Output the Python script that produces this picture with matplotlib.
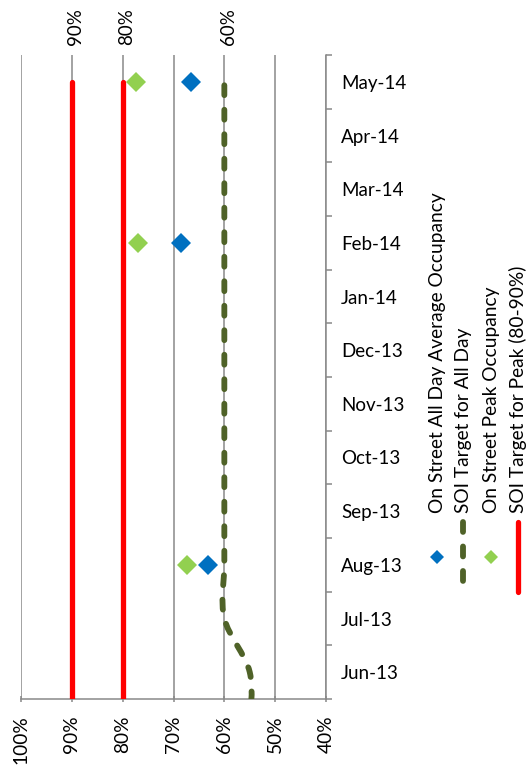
import numpy as np
import matplotlib
matplotlib.use("Agg")
import matplotlib.pyplot as plt
from matplotlib.path import Path
from matplotlib.patches import PathPatch
from matplotlib.lines import Line2D
from matplotlib.transforms import blended_transform_factory

plt.rcParams["font.family"] = ["Lato", "DejaVu Sans"]

# ---- data -------------------------------------------------------------
months = ["May-13", "Jun-13", "Jul-13", "Aug-13", "Sep-13", "Oct-13", "Nov-13",
          "Dec-13", "Jan-14", "Feb-14", "Mar-14", "Apr-14", "May-14"]
first_shown = "Jun-13"

survey_months = ["Aug-13", "Feb-14", "May-14"]
all_day_avg = [63.2, 68.5, 66.5]          # On Street All Day Average Occupancy (%)
peak_occ = [67.3, 77.0, 77.4]             # On Street Peak Occupancy (%)

target_all_day = [55, 55, 60, 60, 60, 60, 60, 60, 60, 60, 60, 60, 60]
target_peak_low = [80, 80, 80, 80, 80, 80, 80, 80, 80, 80, 80, 80, 80]
target_peak_high = [90, 90, 90, 90, 90, 90, 90, 90, 90, 90, 90, 90, 90]

value_ticks = [100, 90, 80, 70, 60, 50, 40]
target_labels = [90, 80, 60]

series_names = ["On Street All Day Average Occupancy",
                "SOI Target for All Day",
                "On Street Peak Occupancy",
                "SOI Target for Peak (80-90%)"]

# ---- styling ----------------------------------------------------------
BLUE = "#0070C0"
LGREEN = "#92D050"
OLIVE = "#4F6228"
RED = "#FF0000"
GRID = "#898989"
FS = 13.5
LEG_FS = 13.8
W, H = 531, 773

fig = plt.figure(figsize=(W / 100, H / 100), dpi=100)
ax = fig.add_axes([21 / W, 1 - 699 / H, 305 / W, 644 / H])

pos = np.arange(len(months)) - months.index(first_shown)
pos_of = dict(zip(months, pos))
shown = [m for m in months if pos_of[m] >= 0]

ax.set_xlim(value_ticks[0], value_ticks[-1])
ax.set_ylim(-0.5, pos[-1] + 0.5)

# value gridlines
ax.set_xticks(value_ticks)
ax.set_xticklabels([f"{v}%" for v in value_ticks], rotation=90, fontsize=FS + 0.3)
ax.grid(axis="x", color=GRID, lw=1.1)
ax.set_axisbelow(True)
ax.tick_params(axis="x", length=4, width=1.1, color=GRID, pad=10, direction="inout")

# category axis on the right
ax.yaxis.tick_right()
ax.set_yticks([pos_of[m] for m in shown], labels=shown, fontsize=FS)
ax.set_yticks(np.arange(-0.5, pos[-1] + 1, 1), minor=True)
ax.tick_params(axis="y", which="major", length=0, pad=11)
ax.tick_params(axis="y", which="minor", length=4.5, width=1.1, color=GRID,
               direction="out")

for s in ("left", "top"):
    ax.spines[s].set_visible(False)
for s in ("right", "bottom"):
    ax.spines[s].set_color(GRID)
    ax.spines[s].set_linewidth(1.1)


def smooth_path(xs, ys):
    """Cubic Bezier through the points, Catmull-Rom style tangents."""
    pts = np.column_stack([xs, ys]).astype(float)
    n = len(pts)
    verts = [pts[0]]
    codes = [Path.MOVETO]
    for i in range(n - 1):
        p0 = pts[max(i - 1, 0)]
        p1 = pts[i]
        p2 = pts[i + 1]
        p3 = pts[min(i + 2, n - 1)]
        c1 = p1 + (p2 - p0) / 6.0
        c2 = p2 - (p3 - p1) / 6.0
        verts += [c1, c2, p2]
        codes += [Path.CURVE4] * 3
    return Path(np.array(verts), codes)


# category along y, value along x: swap when building the path
path = smooth_path(pos, target_all_day)
path = Path(path.vertices[:, ::-1], path.codes)
dash = (0, (1.7, 2.5))
patch = PathPatch(path, facecolor="none", edgecolor=OLIVE, lw=4.2,
                  linestyle=dash, capstyle="round", joinstyle="round", zorder=3)
ax.add_patch(patch)

# peak target band edges
for vals in (target_peak_high, target_peak_low):
    ax.plot(vals, pos, color=RED, lw=3.8, solid_capstyle="round", zorder=3)

# survey results
sp = [pos_of[m] for m in survey_months]
ax.plot(all_day_avg, sp, ls="none", marker="D", ms=10, color=BLUE,
        markeredgewidth=0, zorder=4)
ax.plot(peak_occ, sp, ls="none", marker="D", ms=10, color=LGREEN,
        markeredgewidth=0, zorder=4)

# target value labels above the plot
trans = blended_transform_factory(ax.transData, ax.transAxes)
for v in target_labels:
    ax.annotate(f"{v}%", xy=(v, 1), xycoords=trans, xytext=(4, 10),
                textcoords="offset pixels", rotation=90, ha="center",
                va="bottom", fontsize=FS)

# rotated legend at the right
leg_x = [437, 463, 491, 518]
text_bottom = 513
key_top, key_bottom = 522, 592
for i, (name, x) in enumerate(zip(series_names, leg_x)):
    fig.text(x / W, 1 - text_bottom / H, name, rotation=90, ha="center",
             va="bottom", fontsize=LEG_FS)
kx = [x / W for x in leg_x]
ky = [1 - key_top / H, 1 - key_bottom / H]
kmid = 1 - (key_top + key_bottom) / 2 / H
fig.add_artist(Line2D([kx[0]], [kmid], transform=fig.transFigure, ls="none",
                      marker="D", ms=7, color=BLUE, markeredgewidth=0))
fig.add_artist(Line2D([kx[1], kx[1]], ky, transform=fig.transFigure,
                      color=OLIVE, lw=4.2, ls=dash, dash_capstyle="round"))
fig.add_artist(Line2D([kx[2]], [kmid], transform=fig.transFigure, ls="none",
                      marker="D", ms=7, color=LGREEN, markeredgewidth=0))
fig.add_artist(Line2D([kx[3], kx[3]], ky, transform=fig.transFigure,
                      color=RED, lw=3.8, solid_capstyle="round"))

fig.savefig("out.png", dpi=100)
